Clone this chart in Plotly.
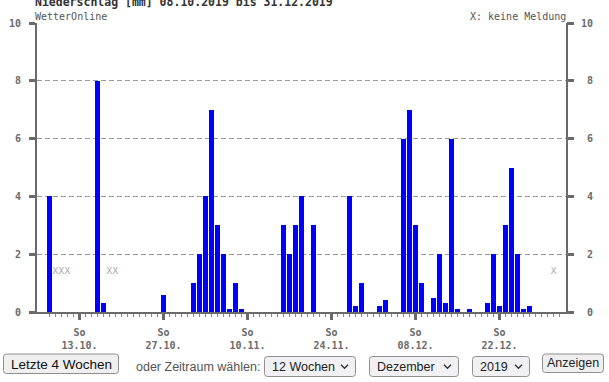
import pandas as pd
import plotly.graph_objects as go

# ---------------- data ----------------
start_date = "2019-10-08"
end_date = "2019-12-31"
# daily precipitation [mm]; None = keine Meldung (no report)
precip_mm = [
    4.0, None, None, None, 0, 0, 0, 0, 8.0, 0.3,
    None, None, 0, 0, 0, 0, 0, 0, 0, 0.6,
    0, 0, 0, 0, 1.0, 2.0, 4.0, 7.0, 3.0, 2.0,
    0.1, 1.0, 0.1, 0, 0, 0, 0, 0, 0, 3.0,
    2.0, 3.0, 4.0, 0, 3.0, 0, 0, 0, 0, 0,
    4.0, 0.2, 1.0, 0, 0, 0.2, 0.4, 0, 0, 6.0,
    7.0, 3.0, 1.0, 0, 0.5, 2.0, 0.3, 6.0, 0.1, 0,
    0.1, 0, 0, 0.3, 2.0, 0.2, 3.0, 5.0, 2.0, 0.1,
    0.2, 0, 0, 0, None,
]
y_ticks = [0, 2, 4, 6, 8, 10]
title_text = "Niederschlag [mm] 08.10.2019 bis 31.12.2019"
source_text = "WetterOnline"
legend_text = "X: keine Meldung"
missing_mark = "X"
weekday_label = "So"
button_left = "Letzte 4 Wochen"
choose_text = "oder Zeitraum wählen:"
select_weeks = "12 Wochen"
select_month = "Dezember"
select_year = "2019"
button_right = "Anzeigen"

# ---------------- derived ----------------
dates = pd.date_range(start_date, end_date, freq="D")
day_idx = [int((d - dates[0]).days) for d in dates]
bar_x = [x for x, v in zip(day_idx, precip_mm) if v is not None]
bar_y = [v for v in precip_mm if v is not None]
miss_x = [x for x, v in zip(day_idx, precip_mm) if v is None]

sundays = [x for x, d in zip(day_idx, dates) if d.weekday() == 6]
sun_text = []
for i, x in enumerate(sundays):
    d = dates[x]
    if i % 2 == 0:
        sun_text.append(f"<b>{weekday_label}<br>{d.day:02d}.{d.month:02d}.</b>")
    else:
        sun_text.append("")

W, H = 609, 382
L, R, T, B = 37, 43, 23, 70
PW, PH = W - L - R, H - T - B


def px(x):
    return (x - L) / PW


def py(y):
    return (H - B - y) / PH


GRAY = "#6a6a6a"
MONO = "DejaVu Sans Mono"
SANS = "Liberation Sans, Arial, sans-serif"

fig = go.Figure()
fig.add_trace(go.Bar(x=bar_x, y=bar_y, width=0.83, marker=dict(color="#0000ff", line=dict(width=0)),
                     showlegend=False, hoverinfo="x+y"))
fig.add_trace(go.Scatter(x=miss_x, y=[1.38] * len(miss_x), mode="text", text=[missing_mark] * len(miss_x),
                         textfont=dict(family=MONO, size=9.5, color="#a8a8a8"), showlegend=False,
                         cliponaxis=False, hoverinfo="skip"))
# invisible trace for right axis
fig.add_trace(go.Scatter(x=[day_idx[0]], y=[0], yaxis="y2", mode="markers", marker=dict(opacity=0),
                         showlegend=False, hoverinfo="skip"))

ytext = [f"<b>{v}</b>" for v in y_ticks]
ytext_r = [f"<b>{str(v).rjust(2, chr(160))}</b>" for v in y_ticks]

fig.update_layout(
    width=W, height=H,
    margin=dict(l=L, r=R, t=T, b=B, pad=0, autoexpand=False),
    paper_bgcolor="white", plot_bgcolor="white",
    bargap=0,
    xaxis=dict(
        range=[-2.08, 86.08], showgrid=False, zeroline=False, automargin=False,
        showline=True, linecolor=GRAY, linewidth=2,
        tickmode="array", tickvals=sundays, ticktext=sun_text,
        ticks="outside", ticklen=6, tickwidth=3, tickcolor=GRAY,
        tickfont=dict(family=MONO, size=10, color=GRAY),
        ticklabelstandoff=4,
        minor=dict(tickmode="array", tickvals=list(range(0, len(day_idx) + 1)),
                   ticks="outside", ticklen=3, tickwidth=1, tickcolor="#888", showgrid=False),
    ),
    yaxis=dict(
        range=[0, 10], showgrid=True, gridcolor="#9a9a9a", gridwidth=1, griddash="5px,3px",
        zeroline=False, showline=True, linecolor=GRAY, linewidth=2, mirror=True, automargin=False,
        tickmode="array", tickvals=y_ticks, ticktext=ytext,
        ticks="outside", ticklen=6, tickwidth=3, tickcolor=GRAY,
        tickfont=dict(family=MONO, size=10, color=GRAY),
        ticklabelstandoff=6,
    ),
    yaxis2=dict(
        range=[0, 10], overlaying="y", side="right", showgrid=False, zeroline=False, automargin=False,
        showline=False, tickmode="array", tickvals=y_ticks, ticktext=ytext_r,
        ticks="outside", ticklen=7, tickwidth=3, tickcolor=GRAY,
        tickfont=dict(family=MONO, size=10, color=GRAY),
        ticklabelstandoff=5,
    ),
)

ann = []
ann.append(dict(text=f"<b>{title_text}</b>", x=px(33), y=py(2.5), xanchor="left", yanchor="middle",
                font=dict(family=MONO, size=11.5, color="#333")))
ann.append(dict(text=source_text, x=px(33), y=py(16), xanchor="left", yanchor="middle",
                font=dict(family=MONO, size=10, color="#555")))
ann.append(dict(text=legend_text, x=px(568), y=py(16), xanchor="right", yanchor="middle",
                font=dict(family=MONO, size=10, color="#555")))

shapes = []


def rrect(x0, y0, x1, y1, r, fill, line):
    def X(v):
        return px(v)

    def Y(v):
        return py(v)
    p = (f"M {X(x0 + r)},{Y(y0)} L {X(x1 - r)},{Y(y0)} Q {X(x1)},{Y(y0)} {X(x1)},{Y(y0 + r)} "
         f"L {X(x1)},{Y(y1 - r)} Q {X(x1)},{Y(y1)} {X(x1 - r)},{Y(y1)} "
         f"L {X(x0 + r)},{Y(y1)} Q {X(x0)},{Y(y1)} {X(x0)},{Y(y1 - r)} "
         f"L {X(x0)},{Y(y0 + r)} Q {X(x0)},{Y(y0)} {X(x0 + r)},{Y(y0)} Z")
    shapes.append(dict(type="path", path=p, xref="paper", yref="paper", fillcolor=fill,
                       line=dict(color=line, width=1), layer="above"))


def chevron(cx, cy):
    p = f"M {px(cx - 3.5)},{py(cy - 1.8)} L {px(cx)},{py(cy + 1.8)} L {px(cx + 3.5)},{py(cy - 1.8)}"
    shapes.append(dict(type="path", path=p, xref="paper", yref="paper",
                       line=dict(color="#333", width=1.3), layer="above"))


BTN_FILL, BTN_LINE = "#efefef", "#8f8f8f"
rrect(3.5, 354, 118.5, 373.5, 3, BTN_FILL, BTN_LINE)
ann.append(dict(text=button_left, x=px(61), y=py(364), xanchor="center", yanchor="middle",
                font=dict(family=SANS, size=13.5, color="#111")))
ann.append(dict(text=choose_text, x=px(134), y=py(366.5), xanchor="left", yanchor="middle",
                font=dict(family=SANS, size=12.5, color="#555")))

for (x0, x1, txt) in [(264.5, 355.5, select_weeks), (369.5, 458.5, select_month), (472.5, 529.5, select_year)]:
    rrect(x0, 356.5, x1, 376.5, 3, "#f1f1f3", BTN_LINE)
    ann.append(dict(text=txt, x=px(x0 + 5), y=py(366.5), xanchor="left", yanchor="middle",
                    font=dict(family=SANS, size=12.5, color="#222")))
    chevron(x1 - 11, 366.5)

rrect(542.5, 354, 603.5, 372.5, 3, BTN_FILL, BTN_LINE)
ann.append(dict(text=button_right, x=px(573), y=py(363), xanchor="center", yanchor="middle",
                font=dict(family=SANS, size=12.5, color="#222")))

for a in ann:
    a.update(xref="paper", yref="paper", showarrow=False)
fig.update_layout(annotations=ann, shapes=shapes)

fig.write_html("out.html")
